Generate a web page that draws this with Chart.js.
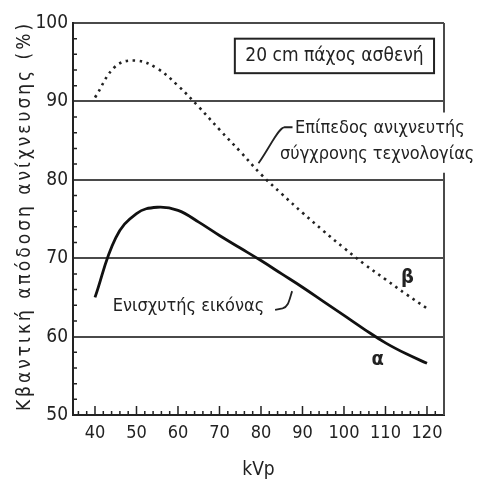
<!DOCTYPE html>
<html>
<head>
<meta charset="utf-8">
<script src="https://cdn.jsdelivr.net/npm/chart.js@4.4.1/dist/chart.umd.min.js"></script>
<style>
  html, body { margin: 0; padding: 0; background: #fff; }
  canvas { display: block; }
</style>
</head>
<body>
<canvas id="qeChart" width="489" height="485" style="width:489px;height:485px"></canvas>
<script>
// data (kVp vs quantum detection efficiency %)
const kvp = [40, 45, 50, 55, 60, 65, 70, 75, 80, 85, 90, 95, 100, 105, 110, 115, 120];
const intensifier = [65.0, 72.6, 75.7, 76.5, 76.1, 74.6, 72.9, 71.3, 69.7, 68.0, 66.3, 64.5, 62.7, 60.9, 59.2, 57.8, 56.6]; // α
const detector = [90.5, 94.5, 95.2, 94.2, 92.0, 89.3, 86.4, 83.6, 80.7, 78.2, 75.8, 73.5, 71.3, 69.2, 67.3, 65.4, 63.6];  // β

const xTickLabels = [40, 50, 60, 70, 80, 90, 100, 110, 120];
const xMinorTicks = [36, 38, 42, 44, 46, 48, 52, 54, 56, 58, 62, 64, 66, 68, 72, 74, 76, 78, 82, 84, 86, 88,
                     92, 94, 96, 98, 102, 104, 106, 108, 112, 114, 116, 118, 122];
const yTickLabels = [50, 60, 70, 80, 90, 100];
const yMinorTicks = [52, 54, 56, 58, 62, 64, 66, 68, 72, 74, 76, 78, 82, 84, 86, 88, 92, 94, 96, 98];

const FONT = "'Liberation Sans Narrow', 'DejaVu Sans Condensed', 'Open Sans', sans-serif";
const INK = '#222';
const GRID = '#4a4a4a';
const Y_TITLE = 'Κβαντική απόδοση ανίχνευσης (%)';

// short inward ticks, right border with a gap, labels and leader lines
const decorations = {
  id: 'decorations',
  afterDatasetsDraw(chart) {
    const ctx = chart.ctx;
    const xs = chart.scales.x, ys = chart.scales.y;
    const area = chart.chartArea;
    const X = v => xs.getPixelForValue(v);
    const Y = v => ys.getPixelForValue(v);
    ctx.save();
    ctx.strokeStyle = INK;
    ctx.lineWidth = 1.5;
    ctx.beginPath();
    xTickLabels.forEach(v => { ctx.moveTo(X(v), area.bottom); ctx.lineTo(X(v), area.bottom - 9); });
    xMinorTicks.forEach(v => { ctx.moveTo(X(v), area.bottom); ctx.lineTo(X(v), area.bottom - 4); });
    yMinorTicks.forEach(v => { ctx.moveTo(area.left, Y(v)); ctx.lineTo(area.left + 4, Y(v)); });
    ctx.stroke();

    // right border, interrupted where the note sticks out
    ctx.strokeStyle = GRID;
    ctx.lineWidth = 2;
    ctx.beginPath();
    ctx.moveTo(area.right, area.top);
    ctx.lineTo(area.right, Y(88.6));
    ctx.moveTo(area.right, Y(80.9));
    ctx.lineTo(area.right, area.bottom);
    ctx.stroke();

    // y axis title, spaced out like the original lettering
    ctx.fillStyle = INK;
    ctx.save();
    ctx.translate(25, (Y(50) + Y(100)) / 2 - 3);
    ctx.rotate(-Math.PI / 2);
    ctx.font = '19px ' + FONT;
    ctx.letterSpacing = '3px';
    ctx.textAlign = 'center';
    ctx.textBaseline = 'middle';
    ctx.fillText(Y_TITLE, 0, 0);
    ctx.restore();

    // patient thickness box
    ctx.strokeStyle = INK;
    ctx.lineWidth = 2;
    ctx.strokeRect(X(73.7), Y(98.0), X(121.7) - X(73.7), Y(93.6) - Y(98.0));
    ctx.font = '19px ' + FONT;
    ctx.textAlign = 'center';
    ctx.textBaseline = 'middle';
    ctx.fillText('20 cm πάχος ασθενή', X(97.7), Y(95.8));

    // notes
    ctx.font = '18px ' + FONT;
    ctx.textAlign = 'left';
    ctx.fillText('Επίπεδος ανιχνευτής', X(88.2), Y(86.6));
    ctx.fillText('σύγχρονης τεχνολογίας', X(84.6), Y(83.2));
    ctx.fillText('Ενισχυτής εικόνας', X(44.3), Y(63.8));

    ctx.lineWidth = 1.8;
    ctx.beginPath();
    ctx.moveTo(X(87.6), Y(86.7));
    ctx.lineTo(X(85.6), Y(86.7));
    ctx.bezierCurveTo(X(84.2), Y(86.6), X(82.6), Y(84.6), X(79.4), Y(82.1));
    ctx.moveTo(X(83.4), Y(63.4));
    ctx.lineTo(X(85.2), Y(63.6));
    ctx.bezierCurveTo(X(86.6), Y(63.8), X(86.8), Y(64.6), X(87.5), Y(65.8));
    ctx.stroke();

    ctx.font = 'bold 20px ' + FONT;
    ctx.textAlign = 'center';
    ctx.fillText('β', X(115.3), Y(67.5));
    ctx.fillText('α', X(108.1), Y(57.1));
    ctx.restore();
  }
};

new Chart(document.getElementById('qeChart'), {
  type: 'line',
  data: {
    datasets: [
      {
        label: 'Ενισχυτής εικόνας',
        data: kvp.map((k, i) => ({ x: k, y: intensifier[i] })),
        borderColor: '#111', borderWidth: 2.8, pointRadius: 0, tension: 0.4, fill: false
      },
      {
        label: 'Επίπεδος ανιχνευτής',
        data: kvp.map((k, i) => ({ x: k, y: detector[i] })),
        borderColor: '#222', borderWidth: 2.6, borderDash: [2.5, 4.5], pointRadius: 0, tension: 0.4, fill: false
      }
    ]
  },
  options: {
    responsive: false,
    animation: false,
    layout: { padding: { top: 23, right: 45, left: 0, bottom: 0 } },
    plugins: { legend: { display: false }, tooltip: { enabled: false } },
    scales: {
      x: {
        type: 'linear', min: 34.7, max: 124.1,
        afterBuildTicks: s => { s.ticks = xTickLabels.map(v => ({ value: v })); },
        afterFit: s => { s.height = 70; },
        grid: { display: true, drawOnChartArea: false, drawTicks: false },
        border: { display: true, color: INK, width: 2 },
        ticks: { color: INK, font: { family: FONT, size: 18 }, padding: 8, maxRotation: 0 },
        title: { display: true, text: 'kVp', color: INK, font: { family: FONT, size: 19 }, padding: { bottom: 4 } }
      },
      y: {
        min: 50, max: 100,
        afterBuildTicks: s => { s.ticks = yTickLabels.map(v => ({ value: v })); },
        afterFit: s => { s.width = 73; },
        grid: {
          drawTicks: false,
          color: c => (c.tick && c.tick.value === 50 ? 'rgba(0,0,0,0)' : GRID),
          lineWidth: 2
        },
        border: { display: true, color: INK, width: 2 },
        ticks: { color: INK, font: { family: FONT, size: 19 }, padding: 5 },
        title: { display: false }
      }
    }
  },
  plugins: [decorations]
});
</script>
</body>
</html>
